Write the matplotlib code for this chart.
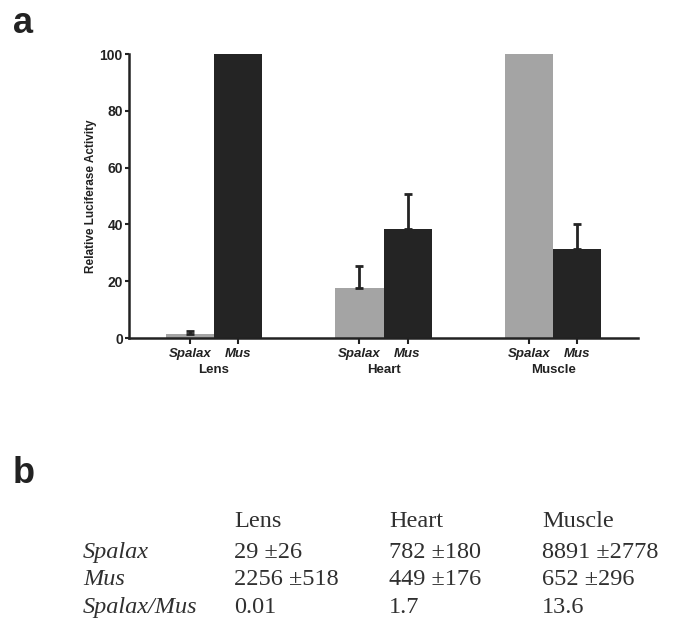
import numpy as np
import matplotlib
matplotlib.use("Agg")
import matplotlib.pyplot as plt

tissues = ["Lens", "Heart", "Muscle"]
species = ["Spalax", "Mus"]
spalax_vals = [1.4, 17.7, 100.0]
spalax_err = [1.2, 7.5, 0.0]
mus_vals = [100.0, 38.5, 31.4]
mus_err = [0.0, 12.3, 8.9]
yticks = [0, 20, 40, 60, 80, 100]

# table for panel b
row_names = ["Spalax", "Mus", "Spalax/Mus"]
table_rows = [
    ["29 \u00b126", "782 \u00b1180", "8891 \u00b12778"],
    ["2256 \u00b1518", "449 \u00b1176", "652 \u00b1296"],
    ["0.01", "1.7", "13.6"],
]

gray = "#a4a4a4"
dark = "#242424"

fig = plt.figure(figsize=(6.77, 6.21), dpi=100)
ax = fig.add_axes([129/677, 1-338/621, (638-129)/677, (338-54)/621])

x = np.arange(len(tissues))
w = 0.283
ax.bar(x - w/2, spalax_vals, w, color=gray, clip_on=False, zorder=2)
ax.bar(x + w/2, mus_vals, w, color=dark, clip_on=False, zorder=2)

for xs, vals, errs in [(x - w/2, spalax_vals, spalax_err), (x + w/2, mus_vals, mus_err)]:
    keep = np.array(errs) > 0
    ax.errorbar(xs[keep], np.array(vals)[keep],
                yerr=[np.zeros(keep.sum()), np.array(errs)[keep]], fmt="none",
                ecolor=dark, elinewidth=2, capsize=3, capthick=2, zorder=3)

ax.set_xlim(-0.5, 2.5)
ax.set_ylim(0, 100)
ax.set_yticks(yticks)
ax.set_yticklabels([str(t) for t in yticks], fontweight="bold", fontsize=10,
                   family="Liberation Sans", color="#222222")
pos = np.concatenate([x - w/2, x + w/2])
ax.set_xticks(pos)
ax.set_xticklabels(["Spalax"]*3 + ["Mus"]*3, fontweight="bold", style="italic",
                   fontsize=9.5, family="Liberation Sans", color="#222222")
ax.tick_params(axis="y", length=3, width=1.5, pad=1.5, color="#222222")
ax.tick_params(axis="x", length=4, width=1.5, pad=3, color="#222222")
for s in ["top", "right"]:
    ax.spines[s].set_visible(False)
for s in ["left", "bottom"]:
    ax.spines[s].set_linewidth(1.8)
    ax.spines[s].set_color("#222222")

for i, t in enumerate(tissues):
    ax.text(x[i], -0.113, t, transform=ax.get_xaxis_transform(), ha="center",
            va="center", fontweight="bold", fontsize=9.5, family="Liberation Sans",
            color="#222222")

ax.set_ylabel("Relative Luciferase Activity", fontweight="bold", fontsize=8.5,
              family="Liberation Sans", color="#222222", labelpad=2)

fig.text(13/677, 1-33/621, "a", fontsize=26, fontweight="bold",
         family="Liberation Sans", va="baseline", color="#222222")
fig.text(13/677, 1-483/621, "b", fontsize=26, fontweight="bold",
         family="Liberation Sans", va="baseline", color="#222222")

serif = "Liberation Serif"
col_x = [234, 389, 542]
row_y = [558, 585, 613]
fs = 17.5
for cx, t in zip(col_x, tissues):
    fig.text(cx/677, 1-527/621, t, fontsize=fs, family=serif, va="baseline",
             color="#303030")
for ry, name, vals in zip(row_y, row_names, table_rows):
    fig.text(83/677, 1-ry/621, name, fontsize=fs, family=serif, style="italic",
             va="baseline", color="#303030")
    for cx, v in zip(col_x, vals):
        fig.text(cx/677, 1-ry/621, v, fontsize=fs, family=serif, va="baseline",
                 color="#303030")

fig.savefig("out.png", dpi=100)
